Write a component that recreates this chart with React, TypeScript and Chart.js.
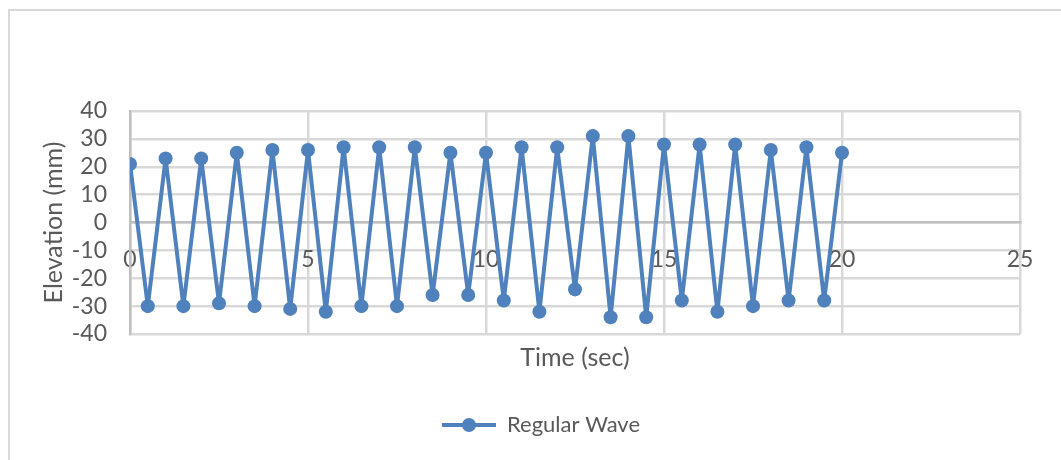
import React, { useEffect, useRef } from "react";
import { Chart, registerables } from "chart.js";

Chart.register(...registerables);

// ---- data ----
const timeSec = [
  0, 0.5, 1, 1.5, 2, 2.5, 3, 3.5, 4, 4.5, 5, 5.5, 6, 6.5, 7, 7.5, 8, 8.5, 9, 9.5,
  10, 10.5, 11, 11.5, 12, 12.5, 13, 13.5, 14, 14.5, 15, 15.5, 16, 16.5, 17, 17.5,
  18, 18.5, 19, 19.5, 20,
];
const elevationMm = [
  21, -30, 23, -30, 23, -29, 25, -30, 26, -31, 26, -32, 27, -30, 27, -30, 27, -26,
  25, -26, 25, -28, 27, -32, 27, -24, 31, -34, 31, -34, 28, -28, 28, -32, 28, -30,
  26, -28, 27, -28, 25,
];
const xTickValues = [0, 5, 10, 15, 20, 25];
const yTickValues = [-40, -30, -20, -10, 0, 10, 20, 30, 40];
const seriesLabel = "Regular Wave";
const xAxisTitle = "Time (sec)";
const yAxisTitle = "Elevation (mm)";

// ---- styles ----
const BLUE = "#4f81bd";
const TEXT = "#595959";
const GRID = "#d9d9d9";
const AXIS = "#bfbfbf";
const FONT = "Lato, 'Open Sans', sans-serif";

export default function App() {
  const ref = useRef<HTMLCanvasElement>(null);

  useEffect(() => {
    const legendImg = document.createElement("canvas");
    legendImg.width = 54;
    legendImg.height = 16;
    const c = legendImg.getContext("2d")!;
    c.strokeStyle = BLUE;
    c.lineWidth = 4;
    c.beginPath();
    c.moveTo(0, 8);
    c.lineTo(54, 8);
    c.stroke();
    c.fillStyle = BLUE;
    c.beginPath();
    c.arc(27, 8, 7, 0, Math.PI * 2);
    c.fill();

    const chart = new Chart(ref.current!, {
      type: "scatter",
      data: {
        datasets: [
          {
            label: seriesLabel,
            data: timeSec.map((t, i) => ({ x: t, y: elevationMm[i] })),
            showLine: true,
            borderColor: BLUE,
            backgroundColor: BLUE,
            borderWidth: 4,
            borderJoinStyle: "round",
            borderCapStyle: "round",
            pointRadius: 7,
            pointHoverRadius: 7,
            pointBorderWidth: 0,
            tension: 0,
          },
        ],
      },
      options: {
        responsive: false,
        animation: false,
        events: [],
        layout: { padding: { left: 11, top: 100, right: 0, bottom: 14 } },
        plugins: {
          tooltip: { enabled: false },
          legend: {
            position: "bottom",
            labels: {
              usePointStyle: true,
              pointStyleWidth: 54,
              padding: 10,
              color: TEXT,
              font: { family: FONT, size: 22 },
              generateLabels: () => [
                {
                  text: seriesLabel,
                  pointStyle: legendImg as any,
                  fillStyle: BLUE,
                  strokeStyle: BLUE,
                  lineWidth: 0,
                  datasetIndex: 0,
                  hidden: false,
                  fontColor: TEXT,
                } as any,
              ],
            },
          },
        },
        scales: {
          x: {
            type: "linear",
            position: { y: 0 } as any,
            min: 0,
            max: 25,
            afterBuildTicks: (s: any) => {
              s.ticks = xTickValues.map((v) => ({ value: v }));
            },
            grid: { color: GRID, lineWidth: 2.5, drawTicks: false },
            border: { color: AXIS, width: 2.5 },
            ticks: {
              padding: 23,
              color: TEXT,
              maxRotation: 0,
              autoSkip: false,
              font: { family: FONT, size: 23 },
            },
          },
          xT: {
            type: "linear",
            position: "bottom",
            min: 0,
            max: 25,
            grid: { display: false, drawTicks: false },
            border: { display: false },
            ticks: { display: false },
            title: {
              display: true,
              text: xAxisTitle,
              color: TEXT,
              font: { family: FONT, size: 25 },
              padding: { top: 9, bottom: 31 },
            },
          },
          y: {
            type: "linear",
            position: "left",
            min: -40,
            max: 40,
            afterBuildTicks: (s: any) => {
              s.ticks = yTickValues.map((v) => ({ value: v }));
            },
            afterFit: (s: any) => {
              s.width = 109;
            },
            grid: { color: GRID, lineWidth: 2.5, drawTicks: false },
            border: { color: AXIS, width: 2.5 },
            ticks: {
              padding: 23,
              color: TEXT,
              autoSkip: false,
              font: { family: FONT, size: 23 },
            },
            title: {
              display: true,
              text: yAxisTitle,
              color: TEXT,
              font: { family: FONT, size: 25 },
              padding: { top: 18, bottom: 0 },
            },
          },
          yR: {
            type: "linear",
            position: "right",
            grid: { display: false, drawTicks: false },
            border: { display: false },
            ticks: { display: false },
            afterFit: (s: any) => {
              s.width = 41;
            },
          },
        },
      },
    });
    return () => chart.destroy();
  }, []);

  return (
    <div
      style={{
        position: "fixed",
        left: 0,
        top: 0,
        width: 1061,
        height: 460,
        overflow: "hidden",
        background: "#ffffff",
      }}
    >
      <div
        style={{
          position: "absolute",
          left: 8,
          top: 9,
          borderLeft: `2px solid ${GRID}`,
          borderTop: `2px solid ${GRID}`,
        }}
      >
        <canvas ref={ref} width={1051} height={449} style={{ display: "block" }} />
      </div>
    </div>
  );
}
